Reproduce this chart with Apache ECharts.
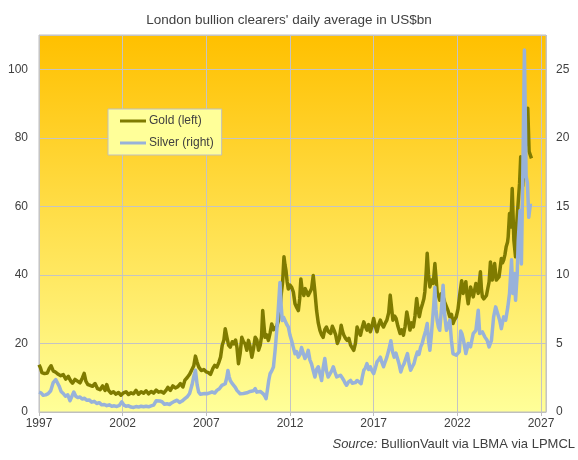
<!DOCTYPE html>
<html>
<head>
<meta charset="utf-8">
<script src="https://cdn.jsdelivr.net/npm/echarts@6/dist/echarts.min.js"></script>
<style>
html,body{margin:0;padding:0;background:#fff;}
#chart{width:578px;height:460px;}
</style>
</head>
<body>
<div id="chart"></div>
<script>
var titleText = "London bullion clearers' daily average in US$bn";
var sourceText = "BullionVault via LBMA via LPMCL";
var seriesNames = ["Gold (left)", "Silver (right)"];

var goldYears = [
1997.00,1997.08,1997.17,1997.33,1997.50,1997.62,1997.72,1997.85,1998.00,1998.15,1998.30,1998.45,1998.60,1998.75,1998.90,
1999.00,1999.15,1999.30,1999.45,1999.60,1999.70,1999.80,1999.92,2000.05,2000.20,2000.35,2000.50,2000.65,2000.80,2000.95,
2001.05,2001.15,2001.30,2001.45,2001.60,2001.75,2001.90,2002.05,2002.20,2002.35,2002.50,2002.65,2002.80,2002.95,
2003.10,2003.25,2003.40,2003.55,2003.70,2003.85,2004.00,2004.15,2004.30,2004.45,2004.60,2004.70,2004.85,
2005.00,2005.15,2005.30,2005.45,2005.60,2005.72,2005.85,2006.00,2006.15,2006.25,2006.35,2006.45,2006.55,2006.70,2006.85,
2007.00,2007.12,2007.25,2007.40,2007.50,2007.63,2007.75,2007.85,2007.95,2008.05,2008.13,2008.23,2008.33,2008.43,2008.55,
2008.65,2008.75,2008.83,2008.92,2009.02,2009.12,2009.22,2009.32,2009.42,2009.52,2009.62,2009.72,2009.82,2009.92,
2010.02,2010.12,2010.22,2010.30,2010.37,2010.45,2010.51,2010.61,2010.71,2010.81,2010.91,2011.01,2011.11,2011.21,
2011.31,2011.40,2011.48,2011.56,2011.64,2011.70,2011.76,2011.83,2011.90,2012.00,2012.10,2012.20,2012.30,2012.40,
2012.50,2012.58,2012.65,2012.73,2012.83,2012.91,2012.99,2013.09,2013.19,2013.29,2013.39,2013.49,2013.59,2013.69,
2013.79,2013.89,2013.98,2014.08,2014.18,2014.28,2014.43,2014.53,2014.63,2014.73,2014.83,2014.95,2015.06,2015.14,
2015.22,2015.32,2015.42,2015.52,2015.62,2015.72,2015.81,2015.91,2016.01,2016.11,2016.21,2016.31,2016.41,2016.50,
2016.60,2016.70,2016.80,2016.90,2017.00,2017.10,2017.20,2017.30,2017.40,2017.50,2017.59,2017.70,2017.79,2017.90,
2017.99,2018.08,2018.15,2018.25,2018.34,2018.45,2018.58,2018.68,2018.78,2018.88,2018.98,2019.08,2019.17,2019.27,
2019.37,2019.47,2019.57,2019.65,2019.73,2019.82,2019.92,2020.00,2020.06,2020.13,2020.20,2020.28,2020.36,2020.46,
2020.56,2020.66,2020.73,2020.79,2020.87,2020.95,2021.05,2021.15,2021.25,2021.35,2021.45,2021.55,2021.65,2021.74,
2021.84,2021.94,2022.04,2022.14,2022.26,2022.35,2022.45,2022.51,2022.58,2022.65,2022.72,2022.79,2022.87,2022.95,
2023.03,2023.11,2023.18,2023.25,2023.32,2023.38,2023.44,2023.50,2023.58,2023.66,2023.74,2023.82,2023.90,2023.98,
2024.05,2024.09,2024.16,2024.23,2024.33,2024.41,2024.49,2024.56,2024.63,2024.70,2024.77,2024.85,2024.92,2025.00,
2025.04,2025.12,2025.20,2025.28,2025.38,2025.48,2025.55,2025.62,2025.72,2025.79,2025.91,2026.07,2026.21,2026.29,2026.43
];
var goldValues = [
13.8,13.0,11.5,11.2,11.4,12.8,13.5,12.0,11.6,11.0,10.6,10.9,9.6,10.4,9.0,
8.4,9.5,9.0,8.5,10.0,11.3,9.0,8.0,7.8,7.5,8.3,6.8,6.5,7.6,6.3,
8.0,6.4,5.5,5.9,5.2,5.7,4.9,5.6,5.9,5.1,5.6,5.3,6.3,5.2,
5.9,5.5,6.2,5.3,6.0,5.5,6.4,5.8,6.0,5.5,6.4,7.2,6.3,
7.6,7.0,7.4,8.3,7.3,9.3,10.0,11.0,12.5,13.5,16.3,14.5,13.1,12.1,12.4,
11.7,11.5,11.0,12.8,13.6,13.1,14.5,16.0,19.5,21.0,24.3,21.8,19.5,18.9,20.5,
19.9,21.0,18.9,14.1,17.0,21.8,20.5,19.9,18.0,20.9,19.0,16.0,18.5,21.8,
21.0,18.0,19.5,22.0,29.6,25.0,21.8,22.5,20.9,23.0,25.7,24.0,24.3,25.0,
26.7,30.0,34.5,38.0,45.3,43.0,41.3,38.0,35.9,37.0,36.4,35.0,31.6,30.5,
29.6,33.0,38.8,35.5,34.0,36.0,36.4,34.0,33.5,36.0,39.8,35.0,29.6,26.0,
23.8,22.5,21.8,24.0,24.8,23.5,22.9,25.0,23.9,22.5,20.0,21.5,25.3,23.5,
22.4,21.5,20.9,21.5,19.5,19.0,18.0,20.0,24.8,23.5,22.4,24.5,26.3,25.0,
23.9,25.5,23.4,25.0,27.3,25.0,23.4,25.5,26.8,25.5,24.8,26.0,26.8,29.0,
34.1,30.0,26.8,28.0,27.3,25.0,22.9,24.0,22.4,25.0,29.2,26.5,23.9,26.0,
24.8,28.0,33.1,30.0,27.8,30.0,31.6,33.0,35.1,40.0,46.3,40.0,36.5,38.5,
37.5,43.3,39.0,35.1,34.0,32.6,34.5,33.6,32.0,31.6,29.5,27.8,28.5,25.8,
27.0,27.8,30.0,34.1,38.3,34.6,34.6,38.0,34.0,31.6,34.0,36.5,35.0,33.6,
35.5,37.5,36.0,34.6,38.0,40.9,36.0,33.6,33.0,32.6,34.0,33.6,38.0,43.8,
40.0,38.5,41.0,43.3,38.5,39.0,39.4,42.0,44.8,43.5,44.3,46.0,48.2,49.5,
51.1,57.9,54.0,65.2,50.1,45.3,55.0,59.9,66.7,74.5,66.0,78.0,88.6,76.0,74.0
];

var silverYears = [
1997.00,1997.12,1997.25,1997.40,1997.55,1997.70,1997.85,1998.00,1998.10,1998.20,1998.32,1998.45,1998.58,1998.72,1998.85,
1998.95,1999.08,1999.20,1999.32,1999.45,1999.58,1999.72,1999.85,2000.00,2000.15,2000.30,2000.45,2000.60,2000.75,2000.90,
2001.05,2001.20,2001.35,2001.50,2001.65,2001.80,2001.95,2002.08,2002.20,2002.35,2002.50,2002.65,2002.80,2002.95,
2003.10,2003.25,2003.40,2003.55,2003.70,2003.85,2004.00,2004.10,2004.22,2004.35,2004.50,2004.65,2004.80,2004.95,
2005.10,2005.25,2005.40,2005.55,2005.70,2005.85,2006.00,2006.15,2006.25,2006.35,2006.45,2006.54,2006.64,2006.74,2006.90,
2007.04,2007.20,2007.34,2007.50,2007.63,2007.78,2007.93,2008.03,2008.13,2008.22,2008.29,2008.36,2008.43,2008.53,2008.63,
2008.73,2008.83,2008.92,2009.02,2009.12,2009.22,2009.32,2009.42,2009.52,2009.62,2009.72,2009.82,2009.92,2010.02,2010.12,
2010.22,2010.31,2010.42,2010.50,2010.57,2010.65,2010.73,2010.81,2010.91,2011.01,2011.11,2011.21,2011.30,2011.40,2011.47,
2011.54,2011.62,2011.70,2011.80,2011.90,2012.00,2012.10,2012.20,2012.30,2012.40,2012.50,2012.60,2012.69,2012.79,2012.89,
2012.99,2013.09,2013.19,2013.29,2013.39,2013.49,2013.59,2013.69,2013.79,2013.89,2013.98,2014.08,2014.18,2014.28,2014.39,
2014.49,2014.59,2014.69,2014.79,2014.90,2015.02,2015.12,2015.22,2015.30,2015.38,2015.50,2015.62,2015.72,2015.81,2015.91,
2016.01,2016.13,2016.25,2016.33,2016.41,2016.50,2016.60,2016.70,2016.80,2016.90,2017.00,2017.10,2017.20,2017.30,2017.40,
2017.50,2017.59,2017.70,2017.79,2017.90,2018.03,2018.13,2018.23,2018.33,2018.42,2018.52,2018.62,2018.72,2018.82,2018.92,
2019.02,2019.12,2019.21,2019.31,2019.41,2019.51,2019.61,2019.71,2019.81,2019.90,2020.00,2020.10,2020.20,2020.28,2020.36,
2020.44,2020.52,2020.59,2020.66,2020.72,2020.79,2020.87,2020.95,2021.05,2021.15,2021.25,2021.35,2021.45,2021.55,2021.65,
2021.74,2021.84,2021.94,2022.04,2022.12,2022.20,2022.28,2022.36,2022.44,2022.51,2022.58,2022.65,2022.79,2022.95,2023.11,
2023.25,2023.34,2023.50,2023.64,2023.78,2023.90,2024.04,2024.17,2024.29,2024.41,2024.53,2024.63,2024.77,2024.89,2025.02,
2025.12,2025.24,2025.32,2025.42,2025.48,2025.58,2025.64,2025.75,2025.83,2025.91,2026.01,2026.11,2026.19,2026.27,2026.37
];
var silverValues = [
1.45,1.40,1.22,1.25,1.34,1.55,2.15,2.37,2.30,1.90,1.50,1.35,1.15,1.25,0.82,
0.85,1.46,1.15,1.05,1.10,0.95,1.00,0.85,0.88,0.72,0.78,0.62,0.68,0.52,0.55,
0.46,0.52,0.42,0.45,0.40,0.48,0.74,0.50,0.42,0.45,0.36,0.33,0.40,0.36,
0.42,0.38,0.42,0.38,0.45,0.50,0.82,0.88,0.80,0.75,0.56,0.60,0.55,0.68,
0.78,0.86,0.70,0.80,0.95,1.10,1.35,2.00,2.60,3.05,2.00,1.46,1.30,1.21,1.35,
1.33,1.40,1.46,1.38,1.58,1.70,1.94,2.00,2.06,2.50,3.03,2.60,2.30,2.10,2.06,
1.80,1.58,1.45,1.33,1.45,1.35,1.46,1.40,1.33,1.50,1.46,1.55,1.70,1.45,1.33,
1.50,1.58,1.30,1.15,0.97,1.60,2.30,2.79,3.00,3.28,4.50,5.95,7.50,9.45,7.80,
6.67,6.90,6.80,6.40,6.20,5.60,5.20,4.70,4.25,4.40,4.00,4.20,4.70,4.30,3.90,
4.10,4.50,3.80,3.50,3.00,2.55,3.10,3.30,2.80,2.30,3.20,3.90,3.00,2.55,2.56,
3.00,3.30,2.90,2.56,2.70,2.68,2.50,2.30,2.10,1.95,2.20,2.30,2.10,2.20,2.15,
2.30,2.20,2.07,2.60,3.04,3.20,3.53,3.10,3.30,3.00,2.80,3.20,3.65,3.80,4.00,
3.60,3.30,3.70,4.00,4.50,5.20,4.40,4.00,4.30,4.26,3.50,2.92,3.30,3.53,3.90,
4.26,3.50,3.04,3.30,3.53,4.00,4.38,4.20,4.75,5.00,5.48,5.90,6.45,5.20,4.50,
5.50,6.70,7.80,9.10,7.50,6.70,6.20,5.96,7.50,9.25,7.00,5.96,6.30,6.70,5.20,
4.26,4.30,4.14,4.20,4.40,5.90,5.70,5.30,5.20,4.26,4.60,5.00,4.75,5.72,5.96,
7.42,5.72,5.84,5.48,5.23,4.75,5.23,6.94,7.67,7.18,6.70,6.08,6.94,6.70,7.67,
8.64,11.10,8.64,10.10,8.15,10.10,12.50,14.70,10.80,16.90,26.40,17.20,16.70,14.20,15.20
];

function zip(xs, ys) {
  var out = [];
  for (var i = 0; i < xs.length; i++) out.push([xs[i], ys[i]]);
  return out;
}

var FONT = "'Liberation Sans', Arial, sans-serif";
var TXT = '#404040';
var GRIDC = '#c4c4c4';

var chart = echarts.init(document.getElementById('chart'), null, {renderer: 'canvas'});
chart.setOption({
  animation: false,
  backgroundColor: '#ffffff',
  textStyle: {fontFamily: FONT},
  title: {
    text: titleText,
    left: 'center',
    top: 8,
    textStyle: {fontSize: 13.5, fontWeight: 'normal', color: TXT, fontFamily: FONT}
  },
  grid: {
    left: 39, right: 32, top: 35, bottom: 48,
    show: true,
    borderColor: '#bfbfbf',
    borderWidth: 1,
    backgroundColor: {
      type: 'linear', x: 0, y: 0, x2: 0, y2: 1,
      colorStops: [
        {offset: 0, color: '#FFC000'},
        {offset: 1, color: '#FFFF99'}
      ]
    }
  },
  legend: {
    orient: 'vertical',
    left: 108, top: 109,
    padding: [6, 8, 6, 12],
    itemGap: 10,
    itemWidth: 26, itemHeight: 3,
    icon: 'rect',
    backgroundColor: '#FFFF99',
    borderColor: '#bfbfbf',
    borderWidth: 1,
    borderRadius: 0,
    textStyle: {fontSize: 12, color: TXT, fontFamily: FONT, padding: [0,0,0,-2]},
    data: seriesNames
  },
  xAxis: {
    type: 'value',
    min: 1997, max: 2027.3, interval: 5,
    axisLine: {show: true, lineStyle: {color: '#bfbfbf'}},
    axisTick: {show: true, length: 4, lineStyle: {color: '#bfbfbf'}},
    splitLine: {show: true, lineStyle: {color: GRIDC, width: 1}},
    axisLabel: {color: TXT, fontSize: 12, margin: 6, showMaxLabel: false,
      formatter: function (v) { return String(Math.round(v)); }}
  },
  yAxis: [{
    type: 'value', position: 'left',
    min: 0, max: 110, interval: 20,
    axisLine: {show: false}, axisTick: {show: false},
    splitLine: {show: true, lineStyle: {color: GRIDC, width: 1}},
    axisLabel: {color: TXT, fontSize: 12, margin: 11, showMaxLabel: false}
  }, {
    type: 'value', position: 'right',
    min: 0, max: 27.5, interval: 5,
    axisLine: {show: false}, axisTick: {show: false},
    splitLine: {show: false},
    axisLabel: {color: TXT, fontSize: 12, margin: 10, showMaxLabel: false}
  }],
  graphic: [{
    type: 'text',
    right: 3, top: 438,
    style: {
      text: '{i|Source:} ' + sourceText,
      rich: {i: {fontStyle: 'italic', fontSize: 13, fill: TXT, fontFamily: FONT}},
      fontSize: 13, fill: TXT, fontFamily: FONT
    }
  }],
  series: [{
    name: seriesNames[0], type: 'line', yAxisIndex: 0,
    data: zip(goldYears, goldValues),
    showSymbol: false, symbol: 'none',
    color: '#7f7b00',
    lineStyle: {width: 3.5, color: '#7f7b00', join: 'round'},
    z: 2
  }, {
    name: seriesNames[1], type: 'line', yAxisIndex: 1,
    data: zip(silverYears, silverValues),
    showSymbol: false, symbol: 'none',
    color: '#98b2da',
    lineStyle: {width: 3.5, color: '#98b2da', join: 'round'},
    z: 3
  }]
});
</script>
</body>
</html>
